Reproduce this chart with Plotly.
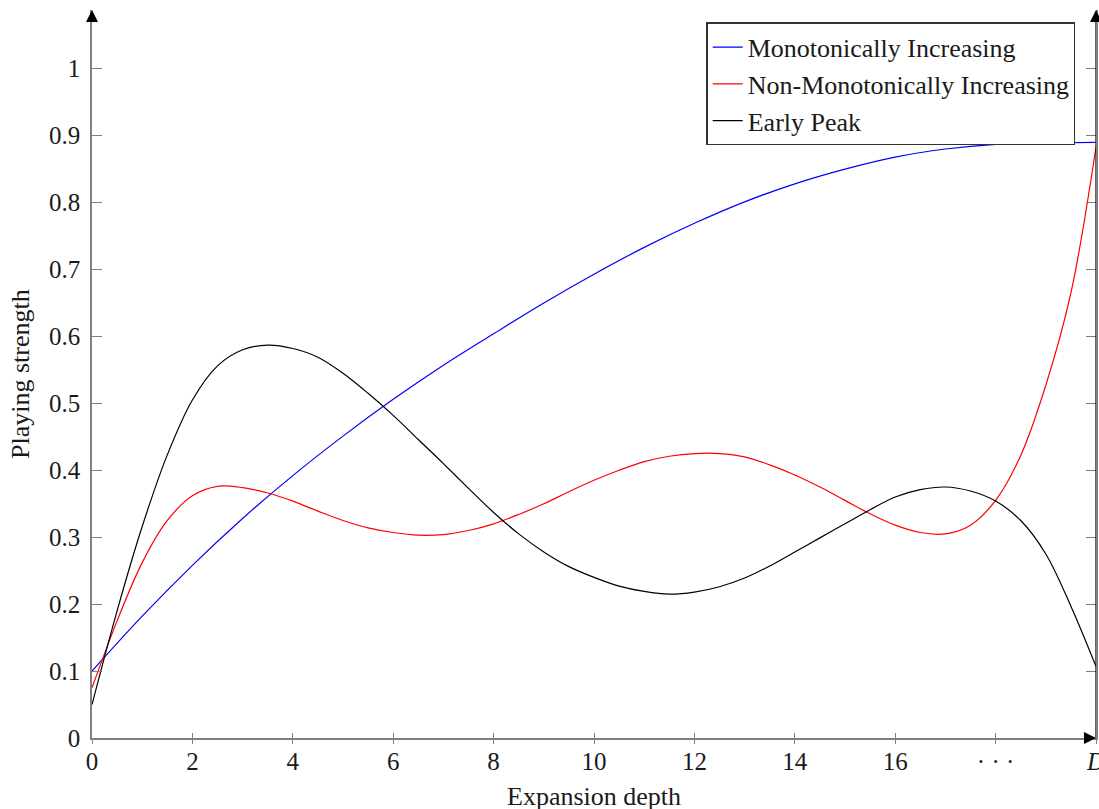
import plotly.graph_objects as go

# ---- data ----
x_mono = [0, 1, 2, 3, 4, 5, 6, 7, 8, 9, 10, 11, 12, 13, 14, 15, 16, 17, 18, 19, 20]
y_mono = [0.100, 0.182, 0.258, 0.328, 0.392, 0.451, 0.506, 0.557, 0.604, 0.650, 0.693,
          0.733, 0.769, 0.801, 0.828, 0.850, 0.868, 0.880, 0.887, 0.889, 0.890]

x_nonmono = [0, 0.5, 1, 1.5, 2, 2.5, 3, 3.5, 4, 4.5, 5, 5.5, 6, 6.5, 7, 7.5, 8, 8.5, 9, 9.5,
             10, 10.5, 11, 11.5, 12, 12.5, 13, 13.5, 14, 14.5, 15, 15.5, 16, 16.5, 17, 17.5,
             18, 18.5, 19, 19.5, 20]
y_nonmono = [0.075, 0.175, 0.262, 0.325, 0.362, 0.376, 0.374, 0.366, 0.354, 0.339, 0.325,
             0.314, 0.307, 0.303, 0.304, 0.310, 0.320, 0.334, 0.350, 0.368, 0.385, 0.400,
             0.413, 0.421, 0.425, 0.425, 0.420, 0.408, 0.393, 0.375, 0.355, 0.335, 0.318,
             0.307, 0.305, 0.318, 0.355, 0.422, 0.527, 0.665, 0.883]

x_early = [0, 0.5, 1, 1.5, 2, 2.5, 3, 3.5, 4, 4.5, 5, 5.5, 6, 6.5, 7, 7.5, 8, 8.5, 9, 9.5,
           10, 10.5, 11, 11.5, 12, 12.5, 13, 13.5, 14, 14.5, 15, 15.5, 16, 16.5, 17, 17.5,
           18, 18.5, 19, 19.5, 20]
y_early = [0.050, 0.190, 0.316, 0.423, 0.505, 0.556, 0.580, 0.587, 0.582, 0.569, 0.545,
           0.515, 0.482, 0.446, 0.410, 0.373, 0.337, 0.305, 0.278, 0.256, 0.240, 0.227,
           0.219, 0.215, 0.218, 0.226, 0.239, 0.257, 0.278, 0.299, 0.320, 0.341, 0.360,
           0.371, 0.375, 0.369, 0.354, 0.325, 0.275, 0.197, 0.107]

series_names = ["Monotonically Increasing", "Non-Monotonically Increasing", "Early Peak"]
series_colors = ["#0000ff", "#ff0000", "#000000"]

x_tickvals = [0, 2, 4, 6, 8, 10, 12, 14, 16, 18, 20]
x_ticktext = ["0", "2", "4", "6", "8", "10", "12", "14", "16", "· · ·", "<i>D</i>"]
y_tickvals = [0, 0.1, 0.2, 0.3, 0.4, 0.5, 0.6, 0.7, 0.8, 0.9, 1.0]
y_ticktext = ["0", "0.1", "0.2", "0.3", "0.4", "0.5", "0.6", "0.7", "0.8", "0.9", "1"]

X_MAX = 20
Y_MAX = 1.0877

FONT = "Liberation Serif"
AXIS_GRAY = "#7f7f7f"
TEXT = "#1a1a1a"

W, H = 1099, 809

fig = go.Figure()
for xs, ys, name, col in zip([x_mono, x_nonmono, x_early],
                             [y_mono, y_nonmono, y_early],
                             series_names, series_colors):
    fig.add_trace(go.Scatter(x=xs, y=ys, mode="lines", name=name,
                             line=dict(color=col, width=1.2, shape="spline", smoothing=1.0),
                             hoverinfo="skip"))

# invisible trace to activate the overlay axis (lower half of x ticks)
fig.add_trace(go.Scatter(x=[0], y=[0], xaxis="x2", mode="markers",
                         marker=dict(size=1, opacity=0), showlegend=False, hoverinfo="skip"))

fig.update_layout(
    width=W, height=H,
    margin=dict(l=92, r=3, t=10, b=71, autoexpand=False),
    paper_bgcolor="white", plot_bgcolor="white",
    font=dict(family=FONT, size=25, color=TEXT),
    showlegend=True,
    legend=dict(x=0.9795, y=0.983, xanchor="right", yanchor="top",
                bgcolor="white", bordercolor="#333333", borderwidth=1.3,
                font=dict(family=FONT, size=26, color=TEXT),
                tracegroupgap=0),
    xaxis=dict(range=[0, X_MAX], tickmode="array", tickvals=x_tickvals, ticktext=x_ticktext,
               ticks="inside", ticklen=5, tickwidth=1, tickcolor=AXIS_GRAY,
               showline=True, linecolor=AXIS_GRAY, linewidth=1.5,
               showgrid=False, zeroline=False, mirror=False, automargin=False,
               ticklabeloverflow="allow",
               tickfont=dict(family=FONT, size=25, color=TEXT)),
    xaxis2=dict(range=[0, X_MAX], overlaying="x", anchor="y", side="bottom",
                tickmode="array", tickvals=x_tickvals, ticks="outside", ticklen=5,
                tickwidth=1, tickcolor=AXIS_GRAY, showticklabels=False, automargin=False,
                showline=False, showgrid=False, zeroline=False),
    yaxis=dict(range=[0, Y_MAX], tickmode="array", tickvals=y_tickvals, ticktext=y_ticktext,
               ticks="inside", ticklen=10, tickwidth=1, tickcolor=AXIS_GRAY,
               showline=True, linecolor=AXIS_GRAY, linewidth=1.5, mirror="ticks",
               showgrid=False, zeroline=False, ticklabelstandoff=5, automargin=False,
               tickfont=dict(family=FONT, size=25, color=TEXT)),
)

# right-hand black line at x = D
fig.add_shape(type="line", xref="x", yref="y", x0=X_MAX, x1=X_MAX, y0=0, y1=Y_MAX - 0.01,
              line=dict(color="black", width=1.2))

arrow_common = dict(text="", showarrow=True, arrowhead=2, arrowsize=2, arrowwidth=1.2,
                    arrowcolor="black", standoff=0, xref="x", yref="y")
fig.add_annotation(x=0, y=Y_MAX, ax=0, ay=10, **arrow_common)
fig.add_annotation(x=X_MAX, y=Y_MAX, ax=0, ay=10, **arrow_common)
fig.add_annotation(x=X_MAX, y=0, ax=-10, ay=0, **arrow_common)

# axis titles
fig.add_annotation(text="Expansion depth", xref="paper", yref="paper", x=0.5, y=0,
                   yshift=-58, yanchor="middle", showarrow=False,
                   font=dict(family=FONT, size=26, color=TEXT))
fig.add_annotation(text="Playing strength", xref="paper", yref="paper", x=0, y=0.5,
                   xshift=-72, xanchor="center", textangle=-90, showarrow=False,
                   font=dict(family=FONT, size=26, color=TEXT))

# remove the default 8px page margin so the figure fills the window exactly
page_fix = ("document.body.style.margin='0';"
            "document.body.style.overflow='hidden';"
            "document.documentElement.style.overflow='hidden';")

fig.write_html("out.html", post_script=page_fix, config={"displayModeBar": False})
